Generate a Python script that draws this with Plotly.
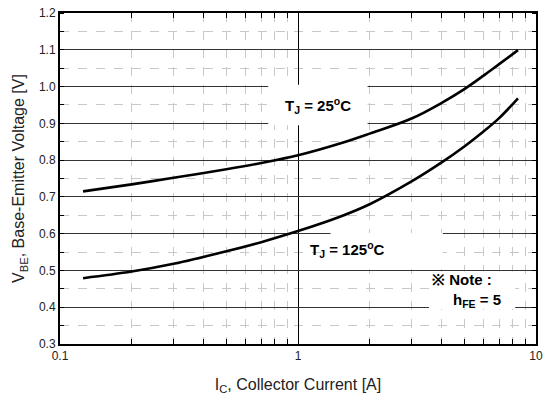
import plotly.graph_objects as go

# Data
ic_25 = [0.125, 0.2, 0.3, 0.5, 0.7, 1.0, 1.5, 2.0, 3.0, 4.0, 5.0, 6.0, 7.0, 8.4]
vbe_25 = [0.715, 0.734, 0.752, 0.775, 0.792, 0.813, 0.845, 0.872, 0.913, 0.955, 0.993, 1.029, 1.061, 1.099]

ic_125 = [0.125, 0.2, 0.3, 0.5, 0.7, 1.0, 1.5, 2.0, 3.0, 4.0, 5.0, 6.0, 7.0, 8.4]
vbe_125 = [0.479, 0.497, 0.518, 0.552, 0.577, 0.607, 0.646, 0.680, 0.742, 0.793, 0.837, 0.877, 0.914, 0.968]

x_tickvals = [0.1, 1, 10]
x_ticktext = ["0.1", "1", "10"]
y_tickvals = [0.3, 0.4, 0.5, 0.6, 0.7, 0.8, 0.9, 1.0, 1.1, 1.2]
y_ticktext = ["0.3", "0.4", "0.5", "0.6", "0.7", "0.8", "0.9", "1.0", "1.1", "1.2"]

FONT = "Liberation Sans, Arial, sans-serif"

fig = go.Figure()
for xs, ys in [(ic_25, vbe_25), (ic_125, vbe_125)]:
    fig.add_trace(go.Scatter(x=xs, y=ys, mode="lines",
                             line=dict(color="black", width=2.6, shape="spline", smoothing=1.0),
                             showlegend=False, hoverinfo="skip"))

# white backgrounds behind the labels (hide grid lines)
boxes = [
    (0.75, 1.96, 0.895, 1.005),
    (1.37, 4.06, 0.503, 0.602),
    (3.55, 8.18, 0.395, 0.497),
]
for x0, x1, y0, y1 in boxes:
    fig.add_shape(type="rect", xref="x", yref="y", x0=x0, x1=x1, y0=y0, y1=y1,
                  fillcolor="white", line=dict(width=0), layer="between")

afont = dict(family=FONT, size=15, color="black")
fig.add_annotation(xref="x domain", yref="y domain", x=0.5417, y=0.722, yanchor="middle",
                   text="<b>T<sub>J</sub> = 25<sup>o</sup>C</b>", showarrow=False, font=afont)
fig.add_annotation(xref="x domain", yref="y domain", x=0.6875, y=0.284, yanchor="middle",
                   text="<b>T<sub>J</sub> = 125<sup>o</sup>C</b>", showarrow=False, font=afont)
fig.add_annotation(xref="x domain", yref="y domain", x=0.777, y=0.194, yanchor="middle",
                   xanchor="left", text="<b>※ Note :</b>", showarrow=False, font=afont)
fig.add_annotation(xref="x domain", yref="y domain", x=0.821, y=0.132, yanchor="middle",
                   xanchor="left", text="<b>h<sub>FE</sub> = 5</b>", showarrow=False, font=afont)

fig.update_layout(
    width=549, height=401,
    margin=dict(l=60, r=9, t=6, b=57),
    paper_bgcolor="white", plot_bgcolor="white",
    font=dict(family=FONT, size=12, color="#222"),
    xaxis=dict(
        type="log", range=[-1, 1],
        tickvals=x_tickvals, ticktext=x_ticktext,
        showline=True, linecolor="black", linewidth=2, mirror="allticks",
        ticks="inside", ticklen=5, tickcolor="black",
        showgrid=True, gridcolor="black", gridwidth=1,
        minor=dict(dtick="D1", showgrid=True, gridcolor="#c8c8c8", griddash="dash",
                   gridwidth=1, ticks="inside", ticklen=5, tickcolor="black"),
        tickfont=dict(size=12, color="#222"),
        title=dict(text="I<sub>C</sub>, Collector Current [A]", font=dict(size=16, color="#222"), standoff=16),
        zeroline=False,
    ),
    yaxis=dict(
        range=[0.3, 1.2],
        tickvals=y_tickvals, ticktext=y_ticktext,
        showline=True, linecolor="black", linewidth=2, mirror="allticks",
        ticks="",
        showgrid=True, gridcolor="#333", gridwidth=1,
        minor=dict(dtick=0.05, showgrid=True, gridcolor="#c8c8c8", griddash="dash",
                   gridwidth=1, ticks="inside", ticklen=4, tickcolor="black"),
        tickfont=dict(size=12, color="#222"),
        title=dict(text="V<sub>BE</sub>, Base-Emitter Voltage [V]", font=dict(size=16, color="#222"), standoff=10),
        zeroline=False,
    ),
)

fig.write_html("out.html")
